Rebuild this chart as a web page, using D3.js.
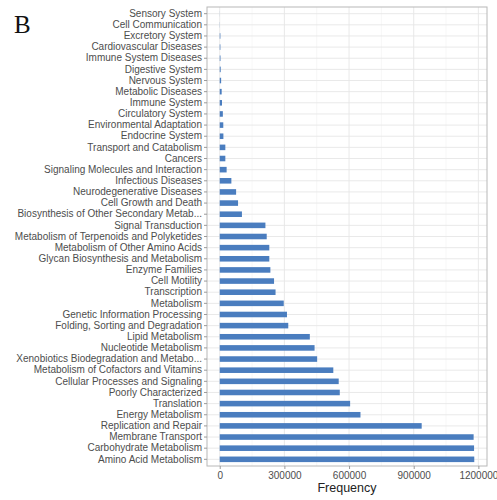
<!DOCTYPE html>
<html>
<head>
<meta charset="utf-8">
<script src="https://cdn.jsdelivr.net/npm/d3@7"></script>
<style>
  html, body { margin: 0; padding: 0; background: #fff; }
  svg { display: block; }
</style>
</head>
<body>
<script>
// KEGG pathway categories, listed top to bottom
const categories = [
  "Sensory System", "Cell Communication", "Excretory System", "Cardiovascular Diseases",
  "Immune System Diseases", "Digestive System", "Nervous System", "Metabolic Diseases",
  "Immune System", "Circulatory System", "Environmental Adaptation", "Endocrine System",
  "Transport and Catabolism", "Cancers", "Signaling Molecules and Interaction",
  "Infectious Diseases", "Neurodegenerative Diseases", "Cell Growth and Death",
  "Biosynthesis of Other Secondary Metab...", "Signal Transduction",
  "Metabolism of Terpenoids and Polyketides", "Metabolism of Other Amino Acids",
  "Glycan Biosynthesis and Metabolism", "Enzyme Families", "Cell Motility", "Transcription",
  "Metabolism", "Genetic Information Processing", "Folding, Sorting and Degradation",
  "Lipid Metabolism", "Nucleotide Metabolism", "Xenobiotics Biodegradation and Metabo...",
  "Metabolism of Cofactors and Vitamins", "Cellular Processes and Signaling",
  "Poorly Characterized", "Translation", "Energy Metabolism", "Replication and Repair",
  "Membrane Transport", "Carbohydrate Metabolism", "Amino Acid Metabolism"
];

// Gene frequency per category
const frequency = [
  300, 600, 3000, 3000,
  3500, 4500, 6500, 9000,
  10500, 14500, 16500, 17000,
  26000, 26000, 32000,
  54000, 76000, 85000,
  103000, 212000,
  218000, 230000,
  230000, 235000, 252000, 259000,
  297000, 312000, 318000,
  418000, 440000, 452000,
  527000, 552000,
  557000, 605000, 653000, 937000,
  1178000, 1180000, 1181000
];

const xTicks = [0, 300000, 600000, 900000, 1200000];
const xMinorTicks = [150000, 450000, 750000, 1050000];

const data = categories.map((c, i) => ({ category: c, value: frequency[i] }));

const W = 497, H = 500;
const panel = { left: 207, right: 487, top: 7, bottom: 466 };

const svg = d3.select("body").append("svg")
  .attr("width", W).attr("height", H)
  .style("font-family", "'Liberation Sans', Arial, sans-serif");

const maxV = d3.max(frequency);
const x = d3.scaleLinear()
  .domain([-0.05 * maxV, 1.05 * maxV])
  .range([panel.left, panel.right]);

const y = d3.scaleBand()
  .domain(categories)
  .range([panel.top, panel.bottom])
  .paddingInner(0.5)
  .paddingOuter(0.35);

// grid
const grid = svg.append("g");
grid.selectAll("line.minor").data(xMinorTicks).join("line")
  .attr("x1", d => x(d)).attr("x2", d => x(d))
  .attr("y1", panel.top).attr("y2", panel.bottom)
  .attr("stroke", "#f2f2f2").attr("stroke-width", 0.6);
grid.selectAll("line.vmajor").data(xTicks).join("line")
  .attr("x1", d => x(d)).attr("x2", d => x(d))
  .attr("y1", panel.top).attr("y2", panel.bottom)
  .attr("stroke", "#e6e6e6").attr("stroke-width", 0.9);
grid.selectAll("line.hmajor").data(categories).join("line")
  .attr("x1", panel.left).attr("x2", panel.right)
  .attr("y1", d => y(d) + y.bandwidth() / 2).attr("y2", d => y(d) + y.bandwidth() / 2)
  .attr("stroke", "#e6e6e6").attr("stroke-width", 0.9);

// bars
svg.append("g").selectAll("rect").data(data).join("rect")
  .attr("x", x(0))
  .attr("y", d => y(d.category))
  .attr("width", d => Math.max(0, x(d.value) - x(0)))
  .attr("height", y.bandwidth())
  .attr("fill", "#4a7dbf");

// panel border
svg.append("rect")
  .attr("x", panel.left).attr("y", panel.top)
  .attr("width", panel.right - panel.left).attr("height", panel.bottom - panel.top)
  .attr("fill", "none").attr("stroke", "#b8b8b8").attr("stroke-width", 1);

// y axis
const yAxis = svg.append("g")
  .attr("transform", `translate(${panel.left},0)`)
  .call(d3.axisLeft(y).tickSize(3).tickPadding(2));
yAxis.select(".domain").remove();
yAxis.selectAll(".tick line").attr("stroke", "#9a9a9a");
yAxis.selectAll(".tick text")
  .attr("fill", "#4d4d4d").style("font-size", "10px")
  .style("font-family", "'Liberation Sans', Arial, sans-serif");

// x axis
const xAxis = svg.append("g")
  .attr("transform", `translate(0,${panel.bottom})`)
  .call(d3.axisBottom(x).tickValues(xTicks).tickFormat(d3.format("d")).tickSize(3).tickPadding(3));
xAxis.select(".domain").remove();
xAxis.selectAll(".tick line").attr("stroke", "#9a9a9a");
xAxis.selectAll(".tick text")
  .attr("fill", "#4d4d4d").style("font-size", "10px")
  .style("font-family", "'Liberation Sans', Arial, sans-serif");

// axis title
svg.append("text")
  .attr("x", (panel.left + panel.right) / 2)
  .attr("y", 492)
  .attr("text-anchor", "middle")
  .attr("fill", "#222")
  .style("font-size", "12.5px")
  .text("Frequency");

// panel tag
svg.append("text")
  .attr("x", 14).attr("y", 33)
  .style("font-family", "'Liberation Serif', 'Times New Roman', serif")
  .style("font-size", "25px")
  .attr("fill", "#111")
  .text("B");
</script>
</body>
</html>
